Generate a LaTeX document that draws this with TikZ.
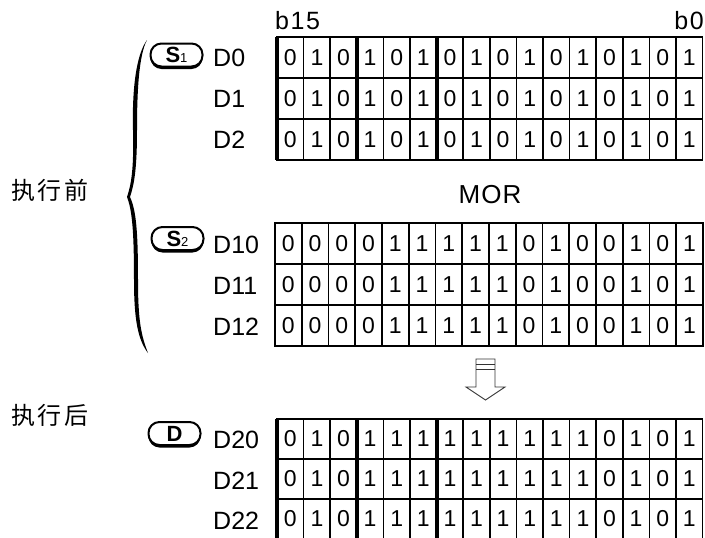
\documentclass[tikz,border=0pt]{standalone}
\usepackage{fontspec}
\setmainfont{Liberation Sans}
\newfontfamily\cjk{Noto Sans CJK SC}
\usepackage{tikz}
\usetikzlibrary{positioning,shadows}

\begin{document}
\begin{tikzpicture}[
  x=1pt, y=-1pt,
  cell/.style={
    draw,
    line width=1.6pt,
    outer sep=0pt,
    inner sep=0pt,
    minimum width=26.6pt,
    minimum height=41pt,
    font=\fontsize{23}{23}\selectfont
  },
  reg/.style={anchor=west, inner sep=0pt, font=\fontsize{25}{25}\selectfont},
  thickline/.style={line width=3.8pt},
  badge/.style={
    draw,
    fill=white,
    line width=2pt,
    rounded corners=11pt,
    minimum width=52pt,
    minimum height=23pt,
    inner sep=0pt,
    drop shadow={shadow xshift=0pt, shadow yshift=-2.5pt,
      fill=black, opacity=1}
  },
  cn/.style={inner sep=0pt, font=\cjk\fontsize{24}{24}\selectfont}
]
\useasboundingbox (0,0) rectangle (705,538);

% bit labels
\node[anchor=base west, inner sep=0pt, font=\fontsize{25}{25}\selectfont]
  (bhigh) at (275,30) {b\hspace{1.5pt}1\hspace{1.5pt}5};
\node[anchor=base east, inner sep=0pt, font=\fontsize{25}{25}\selectfont]
  (blow) at (704,30) {b\hspace{1.5pt}0};

% source 1
\foreach \r in {1,2,3}
  \foreach \b [count=\c] in {0,1,0,1,0,1,0,1,0,1,0,1,0,1,0,1}
    \node[cell] (t\r-\c) at ({277+(\c-0.5)*26.6},{37+(\r-0.5)*41}) {\b};
\draw[thickline] (t1-1.north west) -- (t3-1.south west);
\draw[thickline] (t1-4.north west) -- (t3-4.south west);
\draw[thickline] (t1-7.north west) -- (t3-7.south west);

\node[badge] (sone) at (176.5,55)
  {{\fontsize{22}{22}\selectfont\bfseries S}{\fontsize{13}{13}\selectfont 1}};
\node[reg] (d0) at (213,58) {D0};
\node[reg] (d1) at (213,99) {D1};
\node[reg] (d2) at (213,140) {D2};

\node[font=\fontsize{26}{26}\selectfont] (mor) at (490,195) {M\hspace{1pt}O\hspace{1pt}R};

% source 2
\foreach \r in {1,2,3}
  \foreach \b [count=\c] in {0,0,0,0,1,1,1,1,1,0,1,0,0,1,0,1}
    \node[cell, minimum width=26.75pt] (m\r-\c)
      at ({275+(\c-0.5)*26.75},{223+(\r-0.5)*41}) {\b};

\node[badge] (stwo) at (177.5,238.5)
  {{\fontsize{22}{22}\selectfont\bfseries S}{\fontsize{13}{13}\selectfont 2}};
\node[reg] (d10) at (213,245) {D10};
\node[reg] (d11) at (213,286) {D11};
\node[reg] (d12) at (213,327) {D12};

% brace
\fill (147,40) .. controls (136,55) and (132,90) .. (133,130)
  .. controls (134,170) and (131,185) .. (127,197)
  .. controls (132,210) and (134,230) .. (134,280)
  .. controls (134,320) and (138,340) .. (148,353)
  .. controls (141,335) and (138,320) .. (138,280)
  .. controls (138,230) and (136,210) .. (130,197)
  .. controls (134,185) and (137,170) .. (137,130)
  .. controls (137,90) and (139,55) .. (147,40) -- cycle;

\node[cn] (before) at (50,190) {执\hspace{3pt}行\hspace{3pt}前};
\node[cn] (after) at (50,415) {执\hspace{3pt}行\hspace{3pt}后};

% result arrow
\draw[line width=0.9pt, black!80] (476,359) -- (495,359) -- (495,387)
  -- (505,387) -- (485.5,400) -- (466,387) -- (476,387) -- cycle;
\draw[line width=0.9pt, black!80] (476,364.5) -- (495,364.5);
\draw[line width=0.9pt, black!80] (476,369.5) -- (495,369.5);

% destination
\foreach \r in {1,2,3}
  \foreach \b [count=\c] in {0,1,0,1,1,1,1,1,1,1,1,1,0,1,0,1}
    \node[cell, minimum height=40pt] (b\r-\c)
      at ({277+(\c-0.5)*26.6},{419+(\r-0.5)*40}) {\b};
\draw[thickline] (b1-1.north west) -- (b3-1.south west);
\draw[thickline] (b1-4.north west) -- (b3-4.south west);
\draw[thickline] (b1-7.north west) -- (b3-7.south west);

\node[badge] (dst) at (174.5,433.5)
  {\fontsize{22}{22}\selectfont\bfseries D};
\node[reg] (d20) at (213,440) {D20};
\node[reg] (d21) at (213,481) {D21};
\node[reg] (d22) at (213,521) {D22};

\end{tikzpicture}
\end{document}
